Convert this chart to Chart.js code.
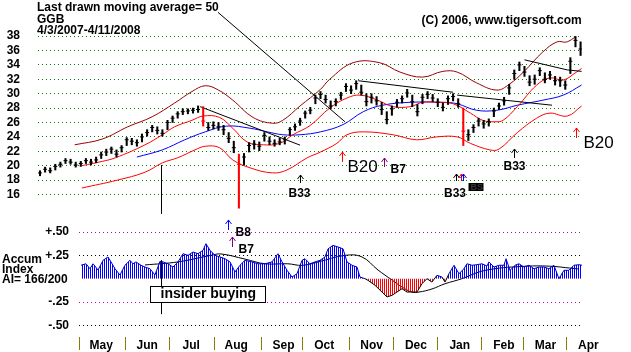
<!DOCTYPE html>
<html>
<head>
<meta charset="utf-8">
<script src="https://cdn.jsdelivr.net/npm/chart.js@4.4.1/dist/chart.umd.min.js"></script>
<style>
  body { margin: 0; background: #fff; }
  #wrap { position: relative; width: 631px; height: 352px; overflow: hidden;
          font-family: "Liberation Sans", Arial, sans-serif; font-weight: bold; color: #000; }
  canvas { position: absolute; left: 0; top: 0; }
  .t { position: absolute; font-size: 12px; line-height: 11px; white-space: nowrap; }
  #insider { position: absolute; left: 150px; top: 286px; width: 116px; height: 17px; box-sizing: border-box;
             border: 1px solid #000; background: #fff; font-size: 14px; line-height: 13px; padding-left: 9.5px; }
</style>
</head>
<body>
<div id="wrap">
  <canvas id="price" width="631" height="352"></canvas>
  <canvas id="accum" width="631" height="352"></canvas>
  <div class="t" style="left:37px;top:2px">Last drawn moving average= 50</div>
  <div class="t" style="left:37px;top:13.6px">GGB</div>
  <div class="t" style="left:37px;top:24.6px">4/3/2007-4/11/2008</div>
  <div class="t" style="left:421.5px;top:15.3px">(C) 2006, www.tigersoft.com</div>
  <div class="t" style="left:2px;top:253.6px">Accum</div>
  <div class="t" style="left:2px;top:263.6px">Index</div>
  <div class="t" style="left:2px;top:273.6px">AI= 166/200</div>
  <div id="insider">insider buying</div>
</div>
<script>
// x = calendar weeks since 4/3/2007, one price bar every half week
const step = 0.5;
const closes = [19.0, 19.5, 19.3, 19.9, 20.2, 20.7, 20.5, 20.1, 20.3, 20.7, 20.5, 20.8, 21.5, 21.9, 22.3, 21.6,
  22.5, 23.6, 23.4, 23.2, 24.0, 24.6, 25.3, 24.9, 24.5, 26.0, 26.6, 27.2, 27.5, 27.6, 27.7, 27.8,
  26.2, 25.3, 25.6, 25.4, 25.0, 23.8, 22.5, 20.2, 21.2, 22.8, 23.0, 22.7, 24.2, 23.4, 23.1, 23.3,
  23.6, 25.0, 25.4, 26.2, 27.3, 27.7, 29.4, 29.9, 29.2, 28.3, 28.9, 29.8, 31.0, 30.5, 31.4, 30.2,
  28.9, 29.5, 29.0, 27.8, 26.4, 27.9, 28.8, 29.3, 30.1, 28.9, 27.5, 29.5, 29.9, 29.4, 28.8, 28.1,
  29.3, 29.6, 28.6, 24.8, 24.3, 25.3, 26.2, 25.8, 26.1, 27.6, 28.3, 29.0, 30.8, 32.8, 34.0, 33.0,
  31.6, 32.0, 33.2, 32.0, 32.6, 31.8, 31.8, 31.2, 34.5, 37.4, 36.2];
const highs = [19.3, 19.8, 19.7, 20.2, 20.5, 21.0, 20.9, 20.5, 20.6, 21.0, 20.9, 21.2, 21.9, 22.3, 22.6, 22.2,
  22.8, 23.9, 23.8, 23.6, 24.4, 25.0, 25.6, 25.4, 25.0, 26.3, 26.9, 27.5, 27.9, 27.9, 28.0, 28.3,
  28.2, 26.0, 26.1, 26.0, 25.6, 24.6, 23.4, 21.6, 21.7, 23.2, 23.5, 23.3, 24.6, 24.0, 23.6, 23.8,
  24.0, 25.3, 25.8, 26.6, 27.6, 28.1, 29.8, 30.3, 29.8, 29.0, 29.3, 30.2, 31.4, 31.1, 31.8, 31.2,
  30.0, 30.0, 29.6, 28.8, 27.5, 28.3, 29.2, 29.7, 30.6, 29.8, 28.5, 29.9, 30.3, 29.9, 29.3, 28.7,
  29.7, 30.0, 29.3, 28.0, 25.0, 25.7, 26.6, 26.3, 26.5, 28.0, 28.7, 29.5, 31.3, 33.3, 34.4, 33.8,
  32.5, 32.6, 33.6, 32.9, 33.1, 32.4, 32.3, 31.8, 35.0, 37.9, 37.2];
const lows = [18.6, 19.1, 19.0, 19.4, 19.8, 20.3, 20.2, 19.8, 19.9, 20.3, 20.1, 20.4, 21.0, 21.4, 21.7, 21.2,
  21.9, 22.8, 22.9, 22.7, 23.3, 24.1, 24.7, 24.4, 24.1, 25.0, 26.0, 26.6, 27.1, 27.2, 27.3, 27.4,
  25.5, 24.9, 25.1, 24.9, 24.3, 23.2, 21.8, 14.1, 20.1, 21.9, 22.3, 22.1, 23.4, 22.9, 22.7, 22.9,
  23.0, 24.2, 24.9, 25.6, 26.6, 27.2, 28.6, 29.3, 28.7, 27.9, 28.3, 29.2, 30.3, 30.0, 30.6, 29.8,
  28.3, 28.7, 28.4, 27.1, 25.8, 27.0, 28.1, 28.7, 29.5, 28.2, 26.9, 28.6, 29.3, 28.9, 28.2, 27.6,
  28.5, 29.0, 28.1, 22.8, 23.5, 24.6, 25.5, 25.2, 25.5, 26.8, 27.8, 28.4, 29.9, 32.0, 33.2, 32.4,
  31.1, 31.3, 32.5, 31.5, 32.0, 31.2, 31.0, 30.6, 32.8, 36.5, 35.3];

// bands and 50-day average, [week, price]
const bandOuter = [[3.4,22.9],[6.1,23.7],[8.6,25.4],[11.0,26.8],[13.2,28.7],[14.9,30.3],[16.2,31.1],[17.5,30.5],
  [18.9,29.1],[20.9,26.7],[22.8,25.9],[23.8,26.3],[25.5,28.3],[27.5,30.6],[28.4,32.0],[30.7,34.3],[33.3,34.3],
  [35.3,33.0],[37.5,32.3],[39.5,33.1],[40.9,33.0],[42.8,31.5],[44.8,30.5],[46.0,31.3],[47.4,33.0],[49.3,35.8],
  [50.7,37.2],[51.7,37.2],[53.1,38.6]];
const bandUpper = [[4.1,20.0],[6.1,20.6],[7.4,21.1],[10.3,22.9],[12.0,24.3],[13.2,25.4],[14.9,26.3],[16.0,26.9],
  [17.6,26.7],[18.9,25.2],[20.3,23.3],[21.9,22.9],[23.5,23.1],[24.8,24.3],[26.5,25.6],[28.4,28.0],[30.1,29.4],
  [31.4,29.8],[33.1,29.1],[34.6,28.2],[36.3,28.2],[37.5,28.8],[38.9,28.8],[40.5,28.6],[42.2,27.3],[43.4,26.3],
  [44.6,26.1],[45.4,26.3],[46.8,28.2],[48.7,31.2],[50.0,32.2],[51.3,31.9],[52.6,33.0],[53.1,33.5]];
const ma50 = [[9.5,21.2],[12.0,22.2],[14.2,23.6],[16.2,24.7],[18.3,25.5],[20.6,25.2],[22.3,24.7],[23.8,24.3],
  [25.5,24.3],[27.5,24.7],[29.7,25.7],[31.7,27.5],[33.6,28.4],[36.3,28.8],[39.5,28.8],[40.9,28.6],[42.8,27.7],
  [44.8,27.7],[46.8,28.4],[49.3,29.1],[51.3,29.8],[53.1,31.2]];
const bandLower = [[4.1,16.9],[7.6,18.0],[10.3,19.1],[12.0,20.4],[13.5,21.1],[15.2,22.2],[16.2,22.7],[17.6,22.5],
  [18.9,20.8],[20.6,19.7],[22.8,19.0],[24.2,19.4],[26.2,21.1],[27.5,21.9],[29.1,23.1],[30.1,24.3],[31.7,24.7],
  [34.6,24.3],[36.9,23.6],[38.9,24.0],[40.9,24.0],[42.2,23.1],[44.1,22.2],[45.0,22.3],[46.8,24.6],[48.7,26.6],
  [50.0,27.3],[51.7,26.9],[53.1,28.3]];
const trendLines = [
  [[15.7,28.2],[25.5,22.85]],
  [[17.45,41.3],[29.9,26.1]],
  [[31.2,31.8],[40.5,30.2]],
  [[40.9,29.8],[50.2,28.4]],
  [[47.5,34.7],[51.7,33.3],[53.1,33.1]]
];

// accumulation index, [week, value]
const accum = [[4.02,0.144],[4.51,0.16],[4.90,0.107],[5.20,0.16],[5.69,0.093],[6.18,0.197],[6.67,0.233],[6.96,0.18],
  [7.35,0.107],[7.84,0.04],[8.33,0.144],[8.82,0.197],[9.12,0.16],[9.41,0.18],[9.90,0.144],[10.29,0.125],[10.78,0.107],
  [11.27,0.04],[11.76,0.186],[12.06,0.18],[12.55,0.16],[13.04,0.125],[13.53,0.18],[14.02,0.268],[14.51,0.25],
  [15.0,0.286],[15.49,0.268],[15.98,0.304],[16.27,0.375],[16.67,0.304],[17.16,0.25],[17.65,0.233],[18.14,0.214],
  [18.63,0.18],[19.12,0.072],[19.61,0.144],[20.1,0.197],[20.78,0.18],[21.37,0.16],[22.06,0.16],[22.75,0.18],
  [23.33,0.268],[23.73,0.18],[24.22,0.09],[24.71,0.018],[25.2,0.054],[25.69,0.197],[25.98,0.214],[26.47,0.16],
  [26.96,0.18],[27.45,0.197],[27.94,0.233],[28.24,0.32],[28.73,0.357],[29.22,0.34],[29.71,0.32],[30.1,0.18],
  [30.59,0.144],[31.08,0.125],[31.37,0.018],[31.86,0.0],[32.16,-0.018],[32.84,-0.07],[33.53,-0.143],[34.02,-0.196],
  [34.51,-0.178],[35.0,-0.143],[35.49,-0.107],[35.98,-0.143],[36.47,-0.143],[36.96,-0.143],[37.45,-0.054],
  [37.94,0.0],[38.43,-0.036],[38.92,0.036],[39.41,0.018],[39.71,-0.036],[40.1,0.054],[40.59,0.144],[41.08,0.054],
  [41.57,0.107],[41.86,0.16],[42.35,0.144],[42.84,0.15],[43.33,0.16],[43.82,0.136],[44.02,0.18],[44.51,0.125],
  [45.0,0.144],[45.49,0.144],[45.69,0.214],[46.08,0.09],[46.57,0.144],[46.96,0.16],[47.45,0.125],[47.94,0.144],
  [48.43,0.107],[48.92,0.125],[49.41,0.125],[49.9,0.107],[50.39,0.144],[50.88,0.0],[51.37,0.09],[51.86,0.09],
  [52.35,0.144],[52.84,0.15],[53.14,0.144]];
const accumMA = [[10.29,0.147],[13.53,0.18],[16.76,0.25],[17.75,0.265],[20.1,0.21],[22.06,0.16],[24.3,0.16],
  [25.7,0.143],[27.3,0.18],[29.9,0.25],[31.57,0.233],[33.14,0.093],[34.51,-0.014],[35.49,-0.089],[36.47,-0.143],
  [37.16,-0.143],[38.43,-0.11],[39.71,-0.054],[41.37,0.0],[43.04,0.072],[44.61,0.107],[46.27,0.125],[49.51,0.136],
  [52.84,0.104]];

const priceTicks = [16, 18, 20, 22, 24, 26, 28, 30, 32, 34, 36, 38];
const accumTicks = [-0.5, -0.25, 0.25, 0.5];
const accumTickLabels = ['-.50', '-.25', '+.25', '+.50'];
const accumGridColors = ['#000000', '#c000c0', '#000000', '#c000c0'];
const monthTicks = [3.85, 8.35, 12.67, 17.08, 21.72, 25.7, 30.35, 34.7, 39.0, 43.33, 47.4, 51.6];
const monthLabels = ['May', 'Jun', 'Jul', 'Aug', 'Sep', 'Oct', 'Nov', 'Dec', 'Jan', 'Feb', 'Mar', 'Apr'];
const insiderWeek = 11.86;

// signal arrows: tip at (w, v), label offset in pixels
const signals = [
  {w: 29.61, v: 21.9, len: 10, color: '#ff0000', text: 'B20', dx: 5, dy: 20, font: '17px'},
  {w: 33.73, v: 21.07, len: 9, color: '#800080', text: 'B7', dx: 6, dy: 15, font: 'bold 12px'},
  {w: 25.49, v: 18.71, len: 8, color: '#000000', text: 'B33', dx: -12, dy: 22, font: 'bold 12px'},
  {w: 40.83, v: 18.85, len: 7, color: '#000000', text: 'B33', dx: -12.5, dy: 23, font: 'bold 12px', box: true},
  {w: 41.27, v: 18.85, len: 7, color: '#ff0000'},
  {w: 41.45, v: 18.85, len: 7, color: '#0000ff'},
  {w: 46.47, v: 22.32, len: 9, color: '#000000', text: 'B33', dx: -11, dy: 21, font: 'bold 12px'},
  {w: 52.52, v: 25.24, len: 10, color: '#ff0000', text: 'B20', dx: 7, dy: 20, font: '17px'},
  {w: 18.43, v: 12.46, len: 10, color: '#0000ff', text: 'B8', dx: 7, dy: 16, font: 'bold 12px'},
  {w: 18.82, v: 10.1, len: 10, color: '#800080', text: 'B7', dx: 6, dy: 16, font: 'bold 12px'}
];

Chart.defaults.font.family = '"Liberation Sans", Arial, sans-serif';
Chart.defaults.font.weight = 'bold';
Chart.defaults.font.size = 12;
Chart.defaults.color = '#000';
Chart.defaults.animation = false;
Chart.defaults.events = [];
Chart.defaults.plugins.legend.display = false;
Chart.defaults.plugins.tooltip.enabled = false;

const pts = arr => arr.map(p => ({x: p[0], y: p[1]}));
const band = (arr, color) => ({type: 'line', data: pts(arr), borderColor: color, borderWidth: 1,
  pointRadius: 0, tension: 0.4, order: 2});
// big down bars in red
const barColor = ctx => {
  const i = ctx.dataIndex;
  return i > 0 && closes[i - 1] - closes[i] >= 1.5 ? '#ff0000' : '#000000';
};

const signalPlugin = {
  id: 'signals',
  afterDatasetsDraw(chart) {
    const g = chart.ctx, xs = chart.scales.x, ys = chart.scales.y;
    g.save();
    g.lineWidth = 1;
    // insider buying marker, price panel part
    const ix = Math.round(xs.getPixelForValue(insiderWeek)) + 0.5;
    g.strokeStyle = '#000';
    g.beginPath();
    g.moveTo(ix, ys.getPixelForValue(20.1));
    g.lineTo(ix, ys.getPixelForValue(13.3));
    g.stroke();
    signals.forEach(s => {
      const x = Math.round(xs.getPixelForValue(s.w)) + 0.5;
      const y = Math.round(ys.getPixelForValue(s.v));
      g.strokeStyle = s.color;
      g.beginPath();
      g.moveTo(x, y); g.lineTo(x, y + s.len);
      g.moveTo(x - 3, y + 4); g.lineTo(x, y); g.lineTo(x + 3, y + 4);
      g.stroke();
      if (s.text) {
        g.fillStyle = '#000';
        g.font = s.font + ' "Liberation Sans", Arial, sans-serif';
        g.textBaseline = 'alphabetic';
        g.fillText(s.text, x + s.dx, y + s.dy);
      }
      if (s.box) {
        g.fillStyle = '#000';
        g.fillRect(x + 12, y + 9, 15, 8);
        g.fillStyle = '#333';
        g.font = 'bold 9px "Liberation Sans", Arial, sans-serif';
        g.fillText('BS', x + 14, y + 16);
      }
    });
    g.restore();
  }
};

new Chart(document.getElementById('price'), {
  type: 'line',
  data: {
    datasets: [
      band(bandOuter, '#990000'),
      band(bandUpper, '#ff0000'),
      band(ma50, '#0000ff'),
      band(bandLower, '#ff0000'),
      ...trendLines.map(l => ({type: 'line', data: pts(l), borderColor: '#000', borderWidth: 1,
        pointRadius: 0, tension: 0, clip: false, order: 1})),
      {type: 'bar', data: closes.map((c, i) => ({x: i * step, y: [lows[i], highs[i]]})),
        backgroundColor: barColor, barThickness: 1.4, order: 0},
      {type: 'line', data: closes.map((c, i) => ({x: i * step, y: c})), showLine: false,
        pointStyle: 'line', pointRadius: 2, pointBorderWidth: 1, pointBorderColor: barColor, order: 0}
    ]
  },
  options: {
    responsive: false,
    devicePixelRatio: 1,
    layout: {padding: {left: 0, top: 36, right: 49, bottom: 140}},
    scales: {
      x: {type: 'linear', min: -0.196, max: 53.14, display: false, offset: false},
      y: {
        min: 13.57, max: 38.01,
        afterFit: s => { s.width = 38; },
        afterBuildTicks: s => { s.ticks = priceTicks.map(v => ({value: v})); },
        ticks: {padding: 18, autoSkip: false},
        grid: {drawTicks: false, color: '#008000', lineWidth: 1},
        border: {display: false, dash: [1, 3]}
      }
    }
  },
  plugins: [signalPlugin]
});

// vertical stripes like the hatched accumulation bars
function stripes(color) {
  const c = document.createElement('canvas');
  c.width = 2; c.height = 1;
  const g = c.getContext('2d');
  g.fillStyle = color;
  g.fillRect(0, 0, 1, 1);
  return g.createPattern(c, 'repeat');
}

const accumPlugin = {
  id: 'accumExtras',
  beforeDatasetsDraw(chart) {
    // dotted level lines at the y scale's tick values
    const g = chart.ctx, ys = chart.scales.y, area = chart.chartArea;
    g.save();
    g.lineWidth = 1;
    g.setLineDash([1, 3]);
    ys.ticks.forEach((t, i) => {
      const y = Math.round(ys.getPixelForValue(t.value)) + 0.5;
      g.strokeStyle = accumGridColors[i];
      g.beginPath();
      g.moveTo(area.left, y);
      g.lineTo(area.right, y);
      g.stroke();
    });
    g.restore();
  },
  afterDatasetsDraw(chart) {
    const g = chart.ctx, xs = chart.scales.x, ys = chart.scales.y;
    const ix = Math.round(xs.getPixelForValue(insiderWeek)) + 0.5;
    g.save();
    g.strokeStyle = '#000';
    g.lineWidth = 1;
    g.beginPath();
    g.moveTo(ix, ys.getPixelForValue(0.2));
    g.lineTo(ix, ys.getPixelForValue(-0.38));
    g.stroke();
    g.restore();
  }
};

new Chart(document.getElementById('accum'), {
  type: 'line',
  data: {
    datasets: [
      {data: pts(accum), fill: {target: 'origin', above: stripes('#0000ff'), below: stripes('#ff0000')},
        borderColor: '#0000c0', borderWidth: 1, pointRadius: 0, tension: 0,
        segment: {borderColor: c => (c.p0.parsed.y < 0 || c.p1.parsed.y < 0 ? '#000' : '#0000c0')}},
      {data: pts(accumMA), borderColor: '#000', borderWidth: 1, pointRadius: 0, tension: 0.4, fill: false}
    ]
  },
  options: {
    responsive: false,
    devicePixelRatio: 1,
    layout: {padding: {left: 0, top: 223, right: 49, bottom: 0}},
    scales: {
      x: {
        type: 'linear', min: 3.8235, max: 53.14,
        afterFit: s => { s.height = 15; },
        afterBuildTicks: s => { s.ticks = monthTicks.map(v => ({value: v})); },
        ticks: {autoSkip: false, maxRotation: 0, labelOffset: 22, padding: -12,
          callback: (v, i) => monthLabels[i]},
        grid: {drawOnChartArea: false, tickLength: 13, tickColor: '#808000'},
        border: {display: false}
      },
      y: {
        min: -0.625, max: 0.597,
        afterFit: s => { s.width = 79; },
        afterBuildTicks: s => { s.ticks = accumTicks.map(v => ({value: v})); },
        ticks: {padding: 2, autoSkip: false, callback: (v, i) => accumTickLabels[i]},
        grid: {display: false},
        border: {display: false}
      }
    }
  },
  plugins: [accumPlugin]
});
</script>
</body>
</html>
